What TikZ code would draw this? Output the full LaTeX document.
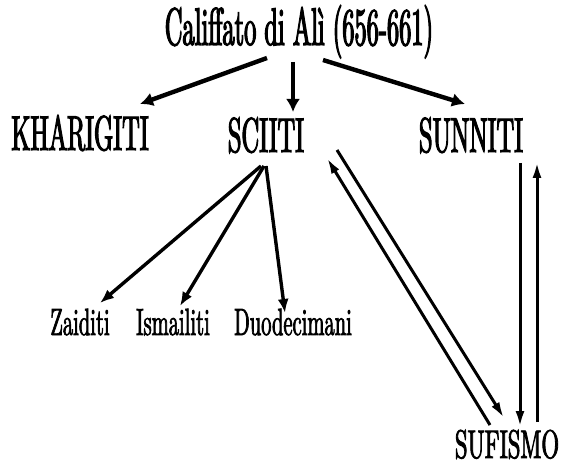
\documentclass[tikz,border=0pt]{standalone}
\usepackage{fontspec}
\usetikzlibrary{arrows.meta}
% condensed high-contrast serif faces
\newfontfamily\titlefont{lmroman10-regular.otf}[FakeStretch=0.46,FakeBold=2.2]
\newfontfamily\headfont{lmroman10-regular.otf}[FakeStretch=0.5,FakeBold=2.2]
\newfontfamily\sufifont{lmroman10-regular.otf}[FakeStretch=0.57,FakeBold=2.0]
\newfontfamily\subfont{lmroman10-regular.otf}[FakeStretch=0.54,FakeBold=1.8]
\tikzset{
  lbl/.style={inner sep=0pt, anchor=base},
  title/.style={lbl, font=\titlefont\fontsize{53}{53}\selectfont},
  sect/.style={lbl, font=\headfont\fontsize{49}{49}\selectfont},
  branch/.style={lbl, font=\subfont\fontsize{38}{38}\selectfont},
  heavy/.style={line width=4.4pt, -{Latex[length=13pt,width=14pt]}},
  medium/.style={line width=3.4pt, -{Latex[length=14pt,width=11pt]}},
  light/.style={line width=3pt, -{Latex[length=16pt,width=9pt]}},
}
\begin{document}
\begin{tikzpicture}[x=1pt,y=-1pt]
\useasboundingbox (0,0) rectangle (567,465);
% labels
\node[title]  (cal) at (299,45)  {Califfato di Alì (656-661)};
\node[sect]   (kha) at (80,150)  {KHARIGITI};
\node[sect]   (sci) at (266,152) {SCIITI};
\node[sect]   (sun) at (471,152) {SUNNITI};
\node[branch] (zai) at (80,335)  {Zaiditi};
\node[branch] (ism) at (173,335) {Ismailiti};
\node[branch] (duo) at (293,335) {Duodecimani};
\node[lbl,font=\sufifont\fontsize{40}{40}\selectfont] (suf) at (507,458) {SUFISMO};
% from the caliphate
\draw[heavy] ([shift={(-32,13)}]cal.base) -- ([shift={(60,-46)}]kha.base);
\draw[heavy] ([shift={(-6,17)}]cal.base) -- ([shift={(27,-40)}]sci.base);
\draw[heavy] ([shift={(24,15)}]cal.base) -- ([shift={(-6,-48)}]sun.base);
% shiite branches
\draw[medium] ([shift={(-5,14)}]sci.base) -- ([shift={(20,-32)}]zai.base);
\draw[medium] ([shift={(-2,14)}]sci.base) -- ([shift={(7,-29)}]ism.base);
\draw[medium] ([shift={(0,14)}]sci.base) -- ([shift={(-8,-22)}]duo.base);
% exchanges with sufism
\draw[light] ([shift={(71,-2)}]sci.base) -- ([shift={(-3,-40)}]suf.base);
\draw[light] ([shift={(-17,-33)}]suf.base) -- ([shift={(61,6)}]sci.base);
\draw[light] ([shift={(49,11)}]sun.base) -- ([shift={(13,-31)}]suf.base);
\draw[light] ([shift={(30,-36)}]suf.base) -- ([shift={(66,10)}]sun.base);
\end{tikzpicture}
\end{document}
